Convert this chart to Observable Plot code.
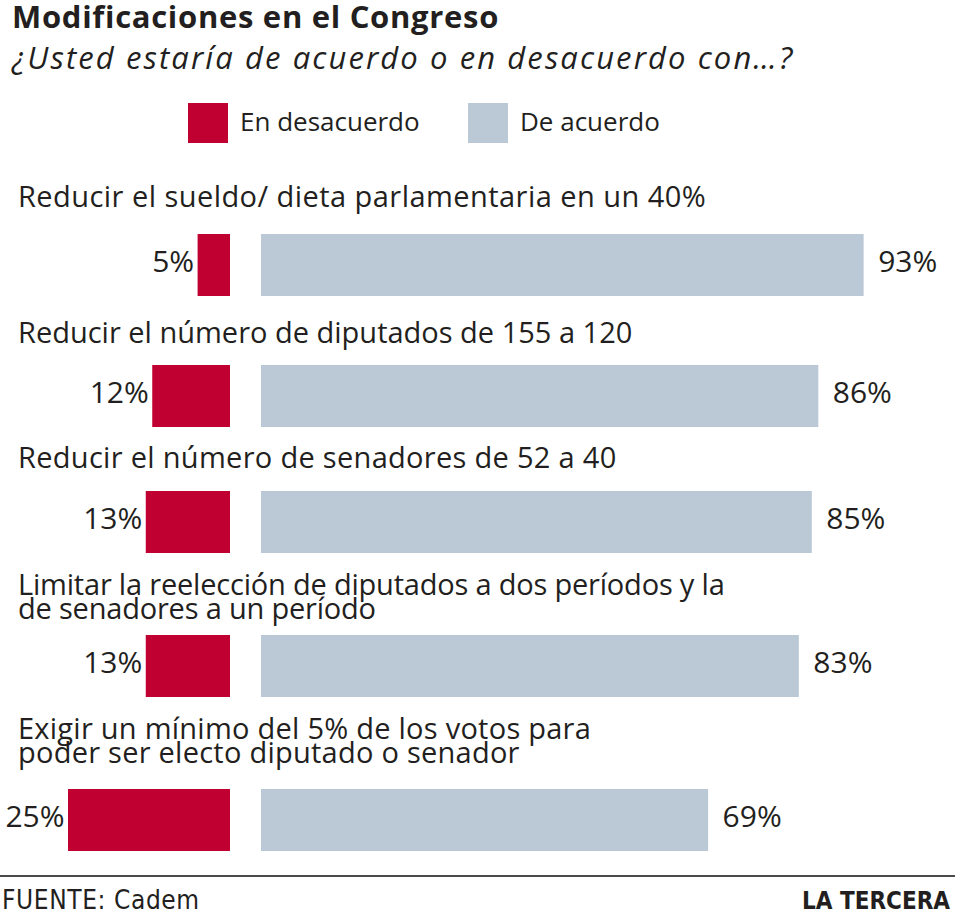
<!DOCTYPE html>
<html>
<head>
<meta charset="utf-8">
<script src="https://cdn.jsdelivr.net/npm/d3@7"></script>
<script src="https://cdn.jsdelivr.net/npm/@observablehq/plot@0.6"></script>
<style>
  html, body { margin: 0; padding: 0; background: #fff; }
  #wrap { position: relative; width: 960px; height: 914px; overflow: hidden; font-family: "Open Sans", Lato, sans-serif; color: #231f20; }
  .t { position: absolute; white-space: pre; }
  .sw { position: absolute; width: 40px; height: 40px; }
  .rowplot { position: absolute; left: 0; }
</style>
</head>
<body>
<div id="wrap"></div>
<script>
// ---- data ----
const title = "Modificaciones en el Congreso";
const subtitle = "¿Usted estaría de acuerdo o en desacuerdo con…?";
const seriesNames = ["En desacuerdo", "De acuerdo"];
const questions = [
  ["Reducir el sueldo/ dieta parlamentaria en un 40%"],
  ["Reducir el número de diputados de 155 a 120"],
  ["Reducir el número de senadores de 52 a 40"],
  ["Limitar la reelección de diputados a dos períodos y la", "de senadores a un período"],
  ["Exigir un mínimo del 5% de los votos para", "poder ser electo diputado o senador"]
];
const enDesacuerdo = [5, 12, 13, 13, 25];
const deAcuerdo = [93, 86, 85, 83, 69];
const source = "FUENTE: Cadem";
const brand = "LA TERCERA";

// ---- styles / layout ----
const RED = "#c00031";
const BLUE = "#bbc9d6";
const INK = "#231f20";
const PX_PER_PCT = 6.48;
const ZERO = 230;            // pixel where the red bars end
const GAP = 31 / PX_PER_PCT; // gap between red and blue bars, in % units
const labelBaselines = [207, 343, 468, 595, 739];
const labelSpacing = [0.45, 0, 0.3, -0.2, 0.25];
const barTops = [234, 365, 491, 635, 789];
const BAR_H = 62;

const wrap = document.getElementById("wrap");
const ASC = 1.069, CONTENT = 1.362; // Open Sans metrics

// place text so that its first baseline lands at `baseline`
function place(txt, x, baseline, fs, extra = {}) {
  const lh = extra.lh || fs;
  const d = document.createElement("div");
  d.className = "t";
  d.textContent = txt;
  d.style.fontSize = fs + "px";
  d.style.lineHeight = lh + "px";
  d.style.top = (baseline - (lh - CONTENT * fs) / 2 - ASC * fs) + "px";
  if (extra.right != null) d.style.right = extra.right + "px"; else d.style.left = x + "px";
  Object.assign(d.style, extra.style || {});
  wrap.appendChild(d);
  return d;
}

place(title, 12, 28, 31, {lh: 40, style: {fontWeight: "700", letterSpacing: "0.7px"}});
place(subtitle, 12, 70, 31, {style: {fontStyle: "italic", letterSpacing: "2.1px"}});

// legend
[[RED, 188, 240], [BLUE, 468, 520]].forEach(([c, sx, tx], i) => {
  const s = document.createElement("div");
  s.className = "sw";
  s.style.left = sx + "px"; s.style.top = "103px"; s.style.background = c;
  wrap.appendChild(s);
  place(seriesNames[i], tx, 131, 26);
});

// rows
const rows = questions.map((q, i) => ({q, no: enDesacuerdo[i], si: deAcuerdo[i]}));
rows.forEach((r, i) => {
  place(r.q.join("\n"), 18, labelBaselines[i], 29, {lh: 24, style: {letterSpacing: labelSpacing[i] + "px"}});
  const chart = Plot.plot({
    width: 960,
    height: BAR_H,
    margin: 0,
    style: {background: "transparent", fontFamily: "'Open Sans', sans-serif", color: INK},
    x: {domain: [-ZERO / PX_PER_PCT, (960 - ZERO) / PX_PER_PCT], axis: null},
    marks: [
      Plot.barX([r], {x1: d => -d.no, x2: 0, fill: RED}),
      Plot.barX([r], {x1: GAP, x2: d => GAP + d.si, fill: BLUE}),
      Plot.text([r], {x: d => -d.no, text: d => d.no + "%", textAnchor: "end", dx: -4, dy: -3, fontSize: 30, fill: INK}),
      Plot.text([r], {x: d => GAP + d.si, text: d => d.si + "%", textAnchor: "start", dx: 14, dy: -3, fontSize: 30, fill: INK})
    ]
  });
  chart.classList.add("rowplot");
  chart.style.top = barTops[i] + "px";
  wrap.appendChild(chart);
});

// footer rule
const rule = document.createElement("div");
Object.assign(rule.style, {position: "absolute", left: "0px", top: "875px", width: "955px", height: "2px", background: "#4a4a4a"});
wrap.appendChild(rule);
const condensed = "'Liberation Sans Narrow', 'DejaVu Sans Condensed', Roboto, sans-serif";
place(source, 2, 910, 26, {style: {fontFamily: condensed, fontStretch: "condensed", letterSpacing: "0.6px"}});
place(brand, 0, 910, 24, {right: 10, style: {fontFamily: condensed, fontStretch: "condensed", fontWeight: "700"}});
</script>
</body>
</html>
